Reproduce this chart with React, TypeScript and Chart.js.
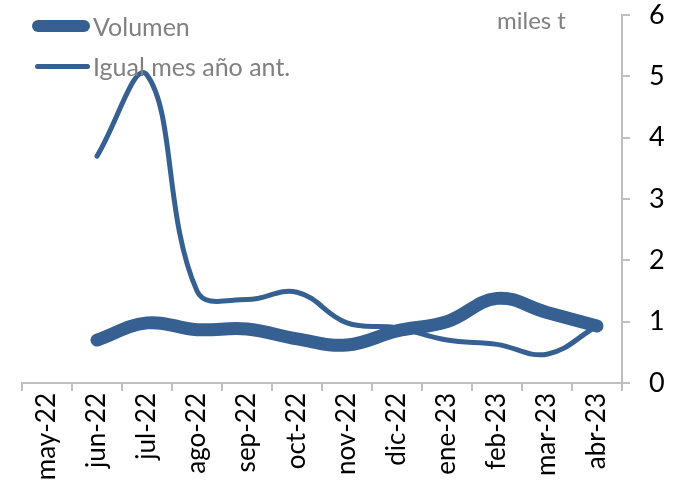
import React, { useEffect, useRef } from "react";
import { Chart, registerables } from "chart.js";

Chart.register(...registerables);

const categories = ["may-22", "jun-22", "jul-22", "ago-22", "sep-22", "oct-22", "nov-22", "dic-22", "ene-23", "feb-23", "mar-23", "abr-23"];
const volumen = [null, 0.7, 0.98, 0.87, 0.88, 0.72, 0.62, 0.85, 1.0, 1.38, 1.15, 0.93];
const igualMesAnoAnt = [null, 3.7, 5.02, 1.5, 1.36, 1.48, 0.98, 0.9, 0.7, 0.63, 0.47, 0.93];
const yTicks = [0, 1, 2, 3, 4, 5, 6];
const seriesNames = ["Volumen", "Igual mes año ant."];
const unitLabel = "miles t";

const BLUE = "#376092";
const FONT = "Lato, 'Open Sans', sans-serif";

export default function App() {
  const ref = useRef<HTMLCanvasElement>(null);
  useEffect(() => {
    document.body.style.margin = "0";
    const chart = new Chart(ref.current!, {
      type: "line",
      data: {
        labels: categories,
        datasets: [
          {
            label: seriesNames[0],
            data: volumen,
            borderColor: BLUE,
            backgroundColor: BLUE,
            borderWidth: 13,
            pointRadius: 0,
            tension: 0.4,
            borderCapStyle: "round",
            borderJoinStyle: "round",
            order: 2,
          },
          {
            label: seriesNames[1],
            data: igualMesAnoAnt,
            borderColor: BLUE,
            backgroundColor: BLUE,
            borderWidth: 5,
            pointRadius: 0,
            tension: 0.4,
            borderCapStyle: "round",
            borderJoinStyle: "round",
            order: 1,
          },
        ],
      },
      options: {
        animation: false,
        responsive: false,
        maintainAspectRatio: false,
        layout: { padding: { top: 15, left: 22, right: 0, bottom: 0 } },
        plugins: { legend: { display: false }, tooltip: { enabled: false } },
        scales: {
          x: {
            offset: true,
            grid: { offset: true, drawOnChartArea: false, color: "#BFBFBF", tickLength: 8, lineWidth: 2 },
            border: { color: "#BFBFBF", width: 2 },
            ticks: { color: "#000", font: { family: FONT, size: 26 }, minRotation: 90, maxRotation: 90, autoSkip: false, padding: 2 },
            afterFit: (s: any) => { s.height = 107; s.paddingLeft = 0; s.paddingRight = 0; },
          },
          y: {
            position: "right",
            min: 0,
            max: 6,
            afterBuildTicks: (s: any) => { s.ticks = yTicks.map((v) => ({ value: v })); },
            grid: { drawOnChartArea: false, color: "#BFBFBF", tickLength: 8, lineWidth: 2 },
            border: { color: "#BFBFBF", width: 2 },
            ticks: { color: "#000", font: { family: FONT, size: 27 }, padding: 19 },
            afterFit: (s: any) => { s.width = 55; s.paddingTop = 0; s.paddingBottom = 0; },
          },
        },
      },
    });
    return () => chart.destroy();
  }, []);

  const legendText: React.CSSProperties = { position: "absolute", left: 93, fontFamily: FONT, fontSize: 25, color: "#808080", lineHeight: "30px", whiteSpace: "nowrap" };
  return (
    <div style={{ position: "relative", width: 677, height: 490 }}>
      <canvas ref={ref} width={677} height={490} style={{ display: "block" }} />
      <div style={{ position: "absolute", left: 32, top: 20, width: 58, height: 12, borderRadius: 6, background: BLUE }} />
      <div style={{ ...legendText, top: 11 }}>{seriesNames[0]}</div>
      <div style={{ position: "absolute", left: 35, top: 64, width: 55, height: 5, borderRadius: 3, background: BLUE }} />
      <div style={{ ...legendText, top: 51 }}>{seriesNames[1]}</div>
      <div style={{ position: "absolute", left: 497, top: 6, fontFamily: FONT, fontSize: 24, color: "#808080", lineHeight: "28px", whiteSpace: "nowrap" }}>{unitLabel}</div>
    </div>
  );
}
